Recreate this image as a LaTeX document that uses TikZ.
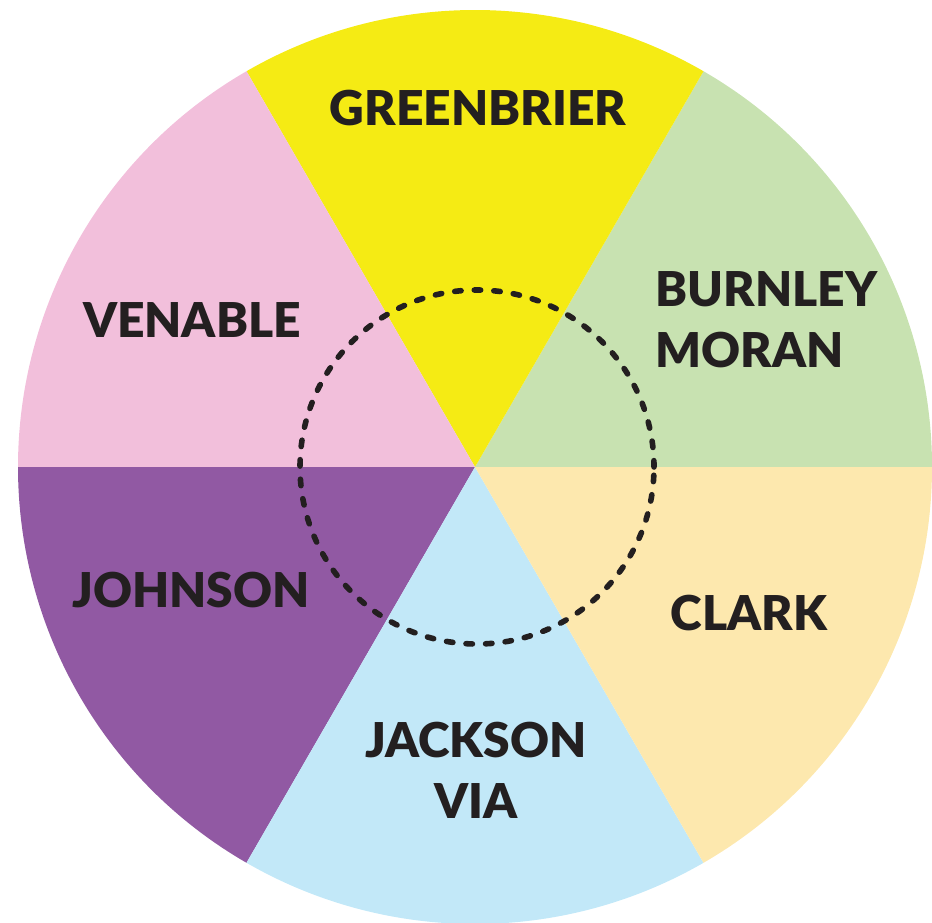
\documentclass[tikz,border=0pt]{standalone}
\usepackage{fontspec}
\setmainfont{Lato}[BoldFont={Lato Black}]
\definecolor{cyellow}{HTML}{F5EB14}
\definecolor{cgreen}{HTML}{C8E2B1}
\definecolor{ccream}{HTML}{FDE8AE}
\definecolor{cblue}{HTML}{C2E8F8}
\definecolor{cpurple}{HTML}{9159A3}
\definecolor{cpink}{HTML}{F2BFDB}
\definecolor{ctext}{HTML}{231F20}
\begin{document}
\begin{tikzpicture}[x=0.5pt,y=0.5pt,
  lbl/.style={text=ctext,font=\bfseries\fontsize{24}{30.5}\selectfont,inner sep=0pt}]
\useasboundingbox (0,0) rectangle (932,-922);
\coordinate (C) at (475,-467);
\fill[cgreen]  (C) -- ++(0:228.5pt)   arc[start angle=0,  end angle=60, radius=228.5pt] -- cycle;
\fill[cyellow] (C) -- ++(60:228.5pt)  arc[start angle=60, end angle=120,radius=228.5pt] -- cycle;
\fill[cpink]   (C) -- ++(120:228.5pt) arc[start angle=120,end angle=180,radius=228.5pt] -- cycle;
\fill[cpurple] (C) -- ++(180:228.5pt) arc[start angle=180,end angle=240,radius=228.5pt] -- cycle;
\fill[cblue]   (C) -- ++(240:228.5pt) arc[start angle=240,end angle=300,radius=228.5pt] -- cycle;
\fill[ccream]  (C) -- ++(300:228.5pt) arc[start angle=300,end angle=360,radius=228.5pt] -- cycle;
\coordinate (D) at (477,-467);
\draw[ctext,line width=2.8pt,line cap=round,dash pattern=on 3.2pt off 6.6pt] (D) circle[radius=88.5pt];
\node[lbl] (greenbrier) at (478,-108) {GREENBRIER};
\node[lbl] (venable) at (192,-320) {VENABLE};
\node[lbl,align=left,anchor=west] (burnley) at (655,-320) {BURNLEY\\MORAN};
\node[lbl] (johnson) at (191,-590) {JOHNSON};
\node[lbl] (clark) at (749,-613) {CLARK};
\node[lbl,align=center] (jackson) at (476,-770) {JACKSON\\VIA};
\end{tikzpicture}
\end{document}
